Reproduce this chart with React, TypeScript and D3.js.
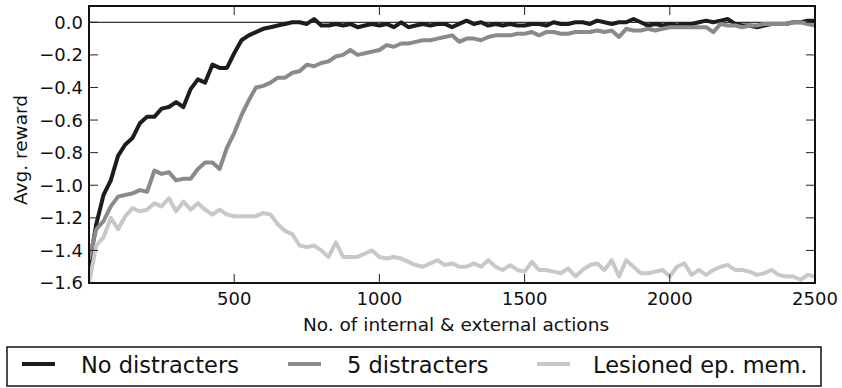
import React from "react";
import * as d3 from "d3";

// x grid: one reading every 25 actions
const xStep = 25;
const xMax = 2500;

const noDistracters = [
  -1.5, -1.24, -1.06, -0.97, -0.82, -0.75, -0.71, -0.62, -0.58, -0.58,
  -0.53, -0.52, -0.49, -0.52, -0.41, -0.35, -0.37, -0.26, -0.28, -0.28,
  -0.19, -0.11, -0.08, -0.06, -0.04, -0.03, -0.02, -0.01, 0.0, 0.0,
  -0.01, 0.02, -0.02, -0.02, -0.01, -0.02, -0.01, -0.03, -0.02, -0.01,
  -0.02, -0.01, -0.03, 0.0, -0.03, -0.02, -0.01, -0.02, -0.01, -0.01,
  -0.03, -0.01, 0.01, -0.01, 0.0, -0.02, -0.01, -0.02, -0.01, -0.02,
  -0.02, -0.01, -0.01, -0.02, 0.0, -0.01, -0.01, 0.0, 0.0, -0.01,
  0.01, 0.0, -0.01, 0.0, 0.0, 0.02, 0.0, -0.02, -0.01, -0.02,
  -0.01, -0.02, -0.01, -0.01, 0.0, 0.01, 0.0, 0.01, 0.02, -0.01,
  -0.02, -0.02, -0.03, -0.02, -0.01, -0.01, -0.01, 0.0, 0.0, 0.01,
  0.01,
];

const fiveDistracters = [
  -1.45, -1.27, -1.22, -1.13, -1.07, -1.06, -1.05, -1.03, -1.04, -0.91,
  -0.93, -0.92, -0.97, -0.96, -0.96, -0.9, -0.86, -0.86, -0.9, -0.77,
  -0.68, -0.57, -0.48, -0.4, -0.39, -0.37, -0.34, -0.34, -0.31, -0.3,
  -0.26, -0.27, -0.25, -0.24, -0.21, -0.2, -0.17, -0.2, -0.19, -0.18,
  -0.17, -0.14, -0.15, -0.13, -0.13, -0.12, -0.11, -0.11, -0.1, -0.09,
  -0.08, -0.12, -0.1, -0.1, -0.11, -0.09, -0.08, -0.08, -0.08, -0.07,
  -0.07, -0.06, -0.08, -0.06, -0.06, -0.07, -0.07, -0.06, -0.06, -0.06,
  -0.05, -0.06, -0.05, -0.09, -0.04, -0.05, -0.05, -0.04, -0.05, -0.04,
  -0.03, -0.03, -0.03, -0.03, -0.03, -0.03, -0.06, -0.01, -0.02, -0.02,
  -0.03, -0.02, -0.02, -0.01, -0.01, -0.01, -0.01, 0.0, 0.0, -0.01,
  -0.02,
];

const lesioned = [
  -1.6, -1.37, -1.32, -1.2, -1.27, -1.19, -1.14, -1.16, -1.15, -1.11,
  -1.13, -1.08, -1.16, -1.1, -1.15, -1.11, -1.15, -1.18, -1.15, -1.18,
  -1.19, -1.19, -1.19, -1.19, -1.17, -1.18, -1.24, -1.28, -1.3, -1.37,
  -1.38, -1.37, -1.4, -1.44, -1.35, -1.44, -1.44, -1.44, -1.42, -1.4,
  -1.44, -1.45, -1.44, -1.45, -1.47, -1.49, -1.5, -1.48, -1.46, -1.49,
  -1.48, -1.5, -1.5, -1.48, -1.5, -1.46, -1.5, -1.52, -1.49, -1.52,
  -1.53, -1.47, -1.52, -1.52, -1.53, -1.54, -1.51, -1.56, -1.52, -1.49,
  -1.48, -1.52, -1.46, -1.56, -1.46, -1.5, -1.54, -1.54, -1.53, -1.52,
  -1.56, -1.5, -1.48, -1.55, -1.52, -1.55, -1.52, -1.5, -1.49, -1.52,
  -1.52, -1.53, -1.55, -1.54, -1.52, -1.55, -1.56, -1.56, -1.58, -1.55,
  -1.56,
];

const seriesNames = ["No distracters", "5 distracters", "Lesioned ep. mem."];
const seriesColors = ["#1c1c1c", "#8a8a8a", "#c8c8c8"];
const xTicks = [500, 1000, 1500, 2000, 2500];
const yTicks = [0, -0.2, -0.4, -0.6, -0.8, -1.0, -1.2, -1.4, -1.6];

const width = 842;
const height = 388;
const margin = { top: 6, right: 27, bottom: 105, left: 89 };
const font = "DejaVu Sans";

export default function App() {
  const xs = d3.range(0, xMax + 1, xStep);
  const allSeries = [noDistracters, fiveDistracters, lesioned];

  const x = d3.scaleLinear().domain([0, xMax]).range([margin.left, width - margin.right]);
  const y = d3.scaleLinear().domain([-1.6, 0.1]).range([height - margin.bottom, margin.top]);

  const line = d3
    .line<number>()
    .x((_, i) => x(xs[i]))
    .y((d) => y(d));

  const left = margin.left;
  const right = width - margin.right;
  const top = margin.top;
  const bottom = height - margin.bottom;
  const tick = 9;
  const fmt = (v: number) => (v === 0 ? "0.0" : d3.format(".1f")(v).replace("-", "\u2212"));

  // legend layout
  const legendY = 365;
  const legendItems = [
    { line: 22, text: 81 },
    { line: 288, text: 347 },
    { line: 537, text: 593 },
  ];

  return (
    <svg
      width={width}
      height={height}
      style={{ position: "absolute", left: 0, top: 0, background: "#fff" }}
      fontFamily={font}
    >
      <defs>
        <clipPath id="plot-clip">
          <rect x={left} y={top} width={right - left} height={bottom - top} />
        </clipPath>
      </defs>

      {/* zero line */}
      <line x1={left} x2={right} y1={y(0)} y2={y(0)} stroke="#000" strokeWidth={1} />

      <g clipPath="url(#plot-clip)">
        {allSeries.map((s, i) => (
          <path
            key={i}
            d={line(s) ?? ""}
            fill="none"
            stroke={seriesColors[i]}
            strokeWidth={4}
            strokeLinejoin="round"
            strokeLinecap="round"
          />
        ))}
      </g>

      {/* ticks, inward on all sides */}
      {xTicks.map((t) => (
        <g key={"xt" + t}>
          <line x1={x(t)} x2={x(t)} y1={bottom} y2={bottom - tick} stroke="#222" />
          <line x1={x(t)} x2={x(t)} y1={top} y2={top + tick} stroke="#222" />
          <text x={x(t)} y={305} fontSize={18} textAnchor="middle" fill="#111">
            {t}
          </text>
        </g>
      ))}
      {yTicks.map((t) => (
        <g key={"yt" + t}>
          <line x1={left} x2={left + tick} y1={y(t)} y2={y(t)} stroke="#222" />
          <line x1={right} x2={right - tick} y1={y(t)} y2={y(t)} stroke="#222" />
          <text x={83} y={y(t)} dy="0.36em" fontSize={18} textAnchor="end" fill="#111">
            {fmt(t)}
          </text>
        </g>
      ))}

      {/* frame */}
      <rect
        x={left}
        y={top}
        width={right - left}
        height={bottom - top}
        fill="none"
        stroke="#111"
        strokeWidth={2}
      />

      <text x={(left + right) / 2 + 4} y={331} fontSize={18.5} textAnchor="middle" fill="#111">
        No. of internal &amp; external actions
      </text>
      <text
        transform={`translate(27,150) rotate(-90)`}
        fontSize={18.5}
        textAnchor="middle"
        fill="#111"
      >
        Avg. reward
      </text>

      {/* legend */}
      <rect x={7} y={347} width={814} height={39} fill="#fff" stroke="#111" strokeWidth={1.5} />
      {seriesNames.map((name, i) => (
        <g key={name}>
          <line
            x1={legendItems[i].line}
            x2={legendItems[i].line + 33}
            y1={legendY - 1}
            y2={legendY - 1}
            stroke={seriesColors[i]}
            strokeWidth={4}
          />
          <text x={legendItems[i].text} y={legendY} dy="0.36em" fontSize={22.5} fill="#111">
            {name}
          </text>
        </g>
      ))}
    </svg>
  );
}
